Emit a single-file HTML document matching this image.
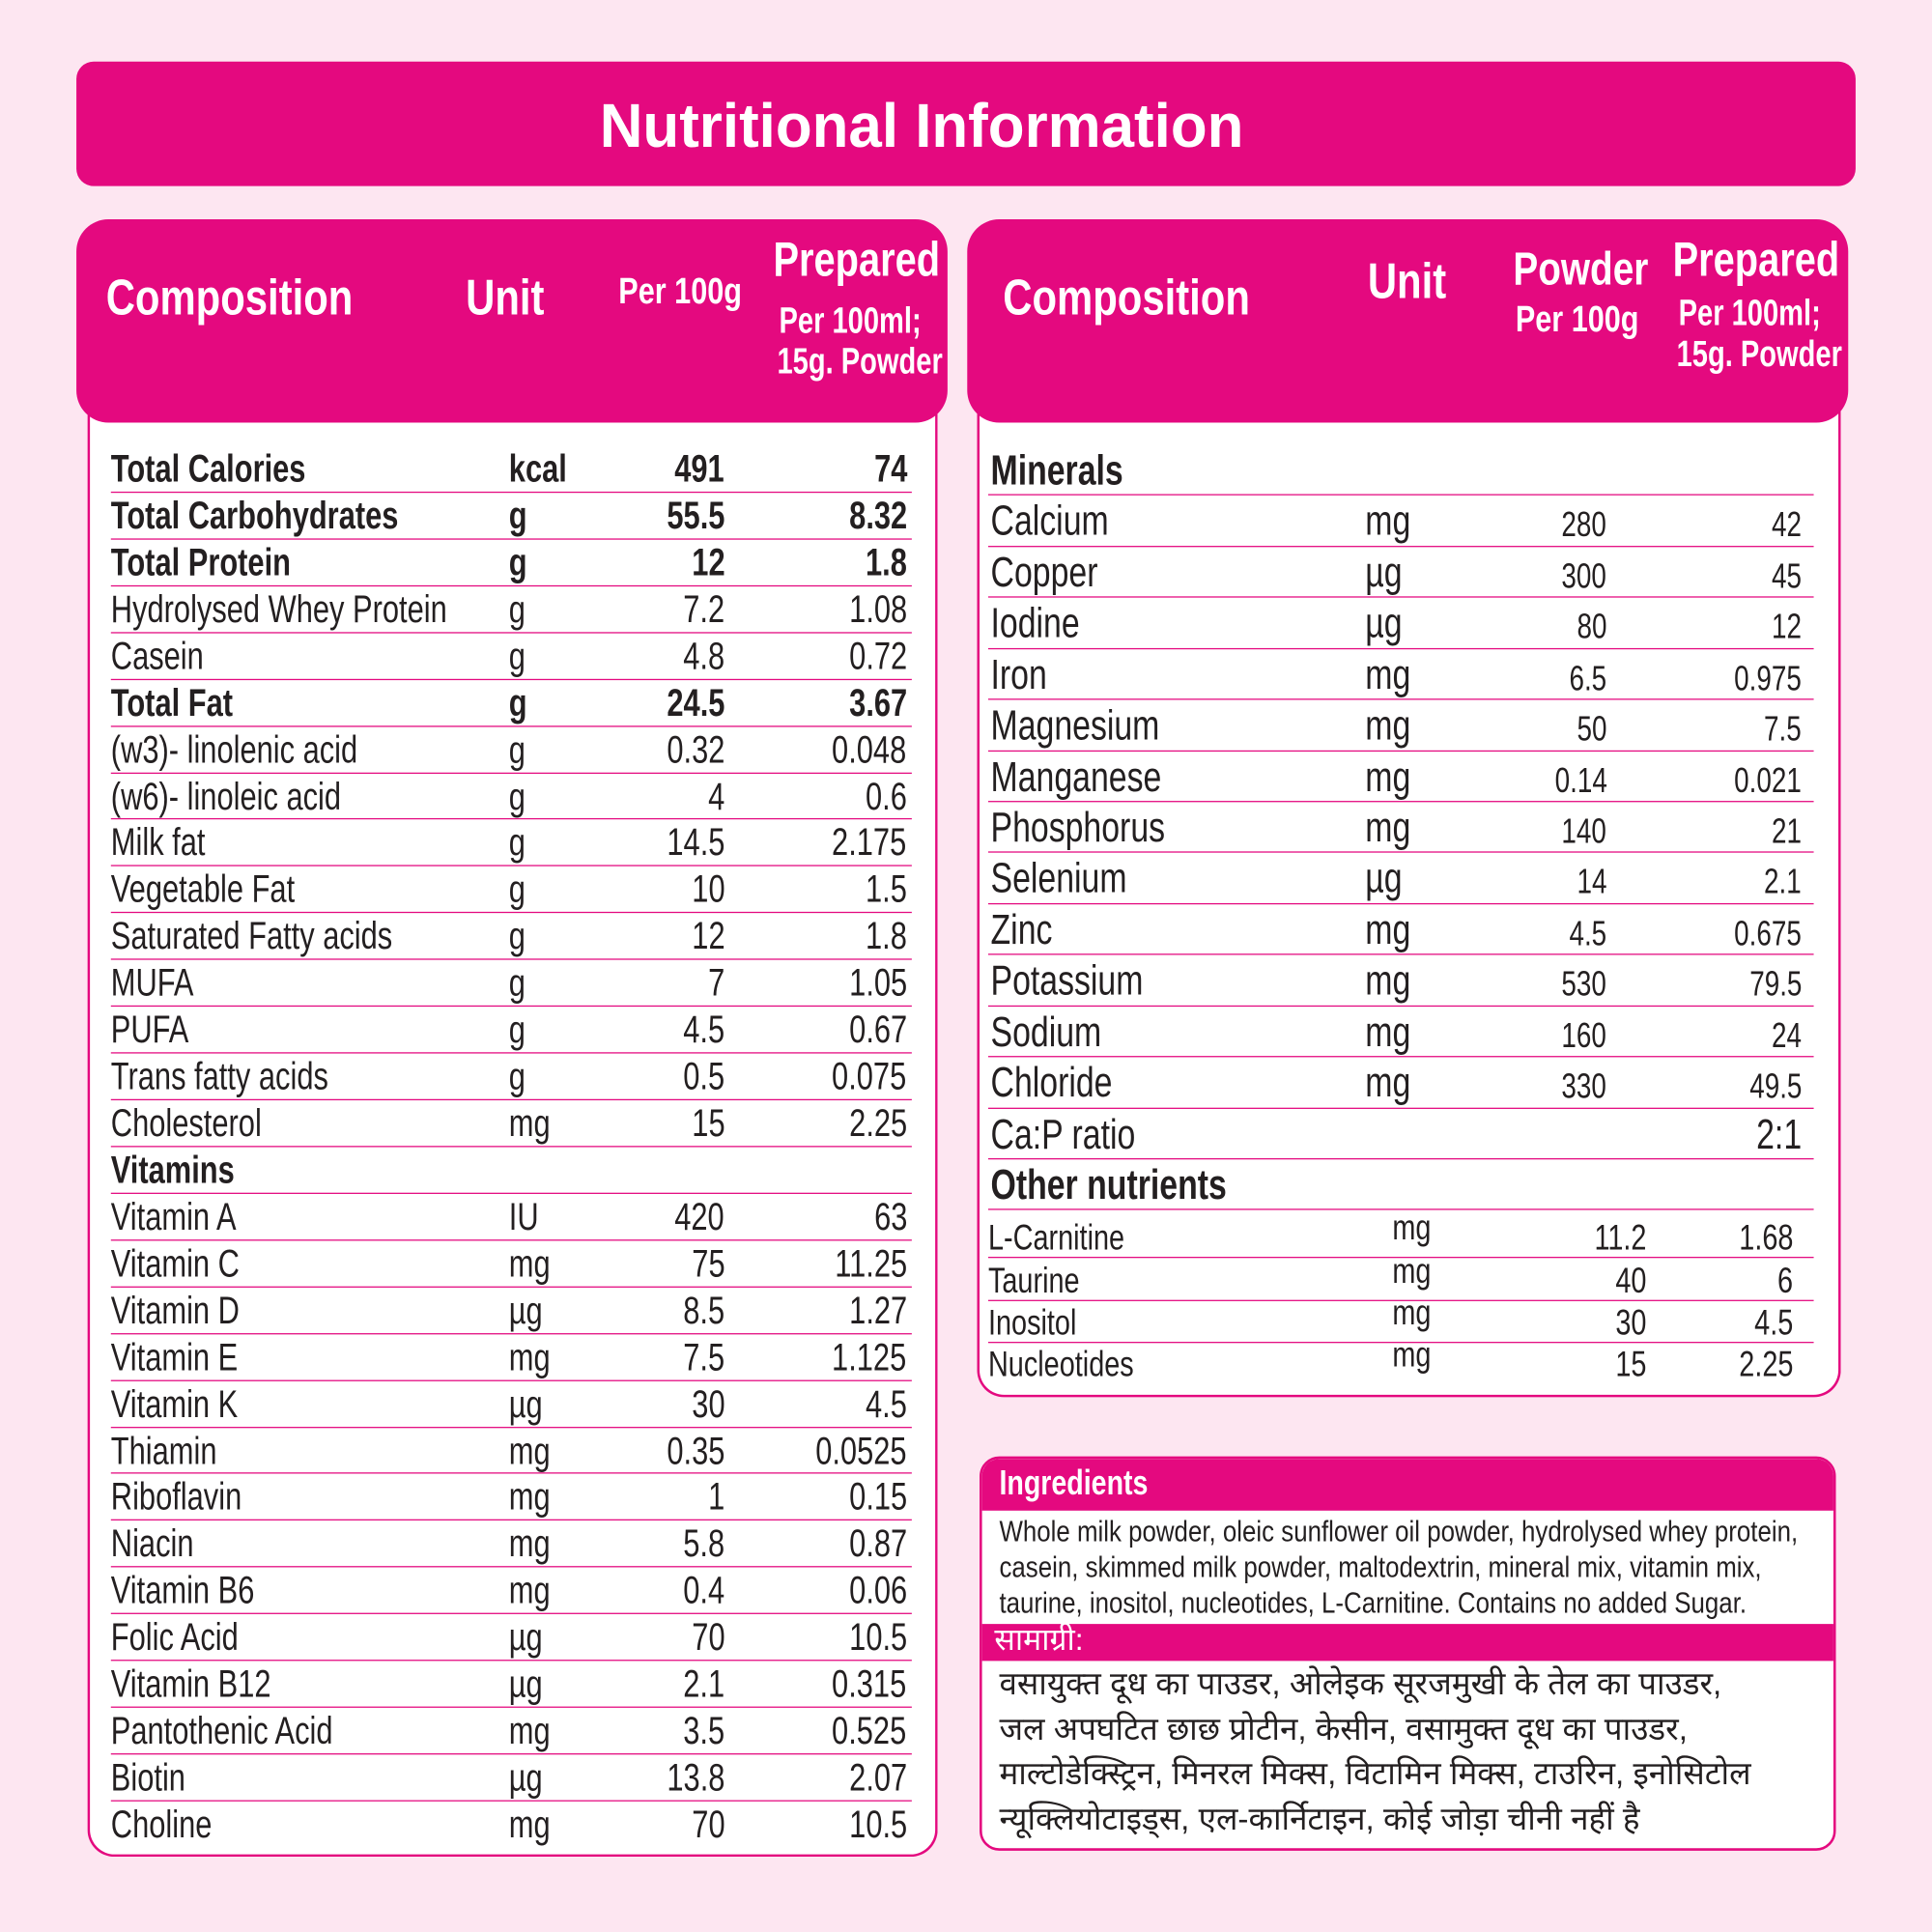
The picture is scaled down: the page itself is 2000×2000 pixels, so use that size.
<!DOCTYPE html>
<html><head><meta charset="utf-8"><style>
html,body{margin:0;padding:0;background:#fde6f1;}
#w{position:absolute;left:0;top:0;width:1568px;height:1568px;transform:scale(1.27551);transform-origin:0 0;font-family:"Liberation Sans",sans-serif;color:#231f20;}
.pk{background:#e4097f;color:#fff;position:absolute;}
.abs{position:absolute;white-space:nowrap;}
.c{transform:scaleX(.8);transform-origin:0 50%;}
.cc{transform:scaleX(.8);transform-origin:50% 50%;}
.body{position:absolute;background:#fff;border:2px solid #e4097f;border-top:none;}
.L{position:absolute;left:90px;width:650px;height:37.93px;top:calc(362px + var(--i)*37.93px);border-bottom:1.5px solid #e4097f;box-sizing:border-box;font-size:31px;line-height:38px;}
.L span,.R span,.O span{position:absolute;white-space:nowrap;transform:scaleX(.78);}
.n,.u{transform-origin:0 50%;}
.a,.b{transform-origin:100% 50%;}
.L .n{left:0}.L .u{left:323px}.L .a{right:152px}.L .b{right:4px}
.bd{font-weight:bold}
.R{position:absolute;left:802px;width:670px;height:41.43px;top:calc(361px + var(--i)*41.43px);border-bottom:1.5px solid #e4097f;box-sizing:border-box;font-size:34px;line-height:42px;}
.R .n{left:2px}.R .u{left:306px}.R .a{right:168px;font-size:28px;top:3px}.R .b{right:10px;font-size:28px;top:3px}
.O{position:absolute;left:802px;width:670px;height:34px;border-bottom:1.5px solid #e4097f;box-sizing:border-box;font-size:29px;line-height:36px;}
.O .n{left:0}.O .u{left:328px;top:-8px}.O .a{right:136px}.O .b{right:17px}
.hi{font-family:"Liberation Sans","Noto Sans CJK SC",sans-serif;}
</style></head><body><div id="w">
<div class="pk" style="left:62px;top:50px;width:1444px;height:101px;border-radius:14px;"></div>
<div class="abs" style="left:26px;width:1444px;top:72px;text-align:center;color:#fff;font-weight:bold;font-size:50px;line-height:60px;transform:scaleX(.97);transform-origin:50% 50%;">Nutritional Information</div>

<!-- left panel -->
<div class="body" style="left:71px;top:320px;width:686px;height:1185px;border-radius:0 0 22px 22px;"></div>
<div class="pk" style="left:62px;top:178px;width:707px;height:165px;border-radius:26px;"></div>
<div class="abs c" style="left:86px;top:218px;color:#fff;font-weight:bold;font-size:41px;">Composition</div>
<div class="abs c" style="left:378px;top:218px;color:#fff;font-weight:bold;font-size:41px;">Unit</div>
<div class="abs c" style="left:502px;top:220px;color:#fff;font-weight:bold;font-size:30px;">Per 100g</div>
<div class="abs cc" style="left:612px;width:156px;text-align:center;top:190px;color:#fff;font-weight:bold;font-size:39px;">Prepared</div>
<div class="abs" style="left:612px;width:156px;text-align:center;top:244px;color:#fff;font-weight:bold;font-size:30px;line-height:33px;transform:scaleX(.76);transform-origin:50% 50%;">Per 100ml;<br>15g. Powder</div>

<div class="L bd" style="--i:0"><span class="n">Total Calories</span><span class="u">kcal</span><span class="a">491</span><span class="b">74</span></div>
<div class="L bd" style="--i:1"><span class="n">Total Carbohydrates</span><span class="u">g</span><span class="a">55.5</span><span class="b">8.32</span></div>
<div class="L bd" style="--i:2"><span class="n">Total Protein</span><span class="u">g</span><span class="a">12</span><span class="b">1.8</span></div>
<div class="L" style="--i:3"><span class="n">Hydrolysed Whey Protein</span><span class="u">g</span><span class="a">7.2</span><span class="b">1.08</span></div>
<div class="L" style="--i:4"><span class="n">Casein</span><span class="u">g</span><span class="a">4.8</span><span class="b">0.72</span></div>
<div class="L bd" style="--i:5"><span class="n">Total Fat</span><span class="u">g</span><span class="a">24.5</span><span class="b">3.67</span></div>
<div class="L" style="--i:6"><span class="n">(w3)- linolenic acid</span><span class="u">g</span><span class="a">0.32</span><span class="b">0.048</span></div>
<div class="L" style="--i:7"><span class="n">(w6)- linoleic acid</span><span class="u">g</span><span class="a">4</span><span class="b">0.6</span></div>
<div class="L" style="--i:8"><span class="n">Milk fat</span><span class="u">g</span><span class="a">14.5</span><span class="b">2.175</span></div>
<div class="L" style="--i:9"><span class="n">Vegetable Fat</span><span class="u">g</span><span class="a">10</span><span class="b">1.5</span></div>
<div class="L" style="--i:10"><span class="n">Saturated Fatty acids</span><span class="u">g</span><span class="a">12</span><span class="b">1.8</span></div>
<div class="L" style="--i:11"><span class="n">MUFA</span><span class="u">g</span><span class="a">7</span><span class="b">1.05</span></div>
<div class="L" style="--i:12"><span class="n">PUFA</span><span class="u">g</span><span class="a">4.5</span><span class="b">0.67</span></div>
<div class="L" style="--i:13"><span class="n">Trans fatty acids</span><span class="u">g</span><span class="a">0.5</span><span class="b">0.075</span></div>
<div class="L" style="--i:14"><span class="n">Cholesterol</span><span class="u">mg</span><span class="a">15</span><span class="b">2.25</span></div>
<div class="L bd" style="--i:15"><span class="n">Vitamins</span></div>
<div class="L" style="--i:16"><span class="n">Vitamin A</span><span class="u">IU</span><span class="a">420</span><span class="b">63</span></div>
<div class="L" style="--i:17"><span class="n">Vitamin C</span><span class="u">mg</span><span class="a">75</span><span class="b">11.25</span></div>
<div class="L" style="--i:18"><span class="n">Vitamin D</span><span class="u">µg</span><span class="a">8.5</span><span class="b">1.27</span></div>
<div class="L" style="--i:19"><span class="n">Vitamin E</span><span class="u">mg</span><span class="a">7.5</span><span class="b">1.125</span></div>
<div class="L" style="--i:20"><span class="n">Vitamin K</span><span class="u">µg</span><span class="a">30</span><span class="b">4.5</span></div>
<div class="L" style="--i:21"><span class="n">Thiamin</span><span class="u">mg</span><span class="a">0.35</span><span class="b">0.0525</span></div>
<div class="L" style="--i:22"><span class="n">Riboflavin</span><span class="u">mg</span><span class="a">1</span><span class="b">0.15</span></div>
<div class="L" style="--i:23"><span class="n">Niacin</span><span class="u">mg</span><span class="a">5.8</span><span class="b">0.87</span></div>
<div class="L" style="--i:24"><span class="n">Vitamin B6</span><span class="u">mg</span><span class="a">0.4</span><span class="b">0.06</span></div>
<div class="L" style="--i:25"><span class="n">Folic Acid</span><span class="u">µg</span><span class="a">70</span><span class="b">10.5</span></div>
<div class="L" style="--i:26"><span class="n">Vitamin B12</span><span class="u">µg</span><span class="a">2.1</span><span class="b">0.315</span></div>
<div class="L" style="--i:27"><span class="n">Pantothenic Acid</span><span class="u">mg</span><span class="a">3.5</span><span class="b">0.525</span></div>
<div class="L" style="--i:28"><span class="n">Biotin</span><span class="u">µg</span><span class="a">13.8</span><span class="b">2.07</span></div>
<div class="L" style="--i:29;border-bottom:none"><span class="n">Choline</span><span class="u">mg</span><span class="a">70</span><span class="b">10.5</span></div>

<!-- right panel -->
<div class="body" style="left:793px;top:320px;width:697px;height:812px;border-radius:0 0 22px 22px;"></div>
<div class="pk" style="left:785px;top:178px;width:715px;height:165px;border-radius:26px;"></div>
<div class="abs c" style="left:814px;top:218px;color:#fff;font-weight:bold;font-size:41px;">Composition</div>
<div class="abs c" style="left:1110px;top:205px;color:#fff;font-weight:bold;font-size:41px;">Unit</div>
<div class="abs cc" style="left:1215px;width:130px;text-align:center;top:198px;color:#fff;font-weight:bold;font-size:38px;">Powder</div>
<div class="abs cc" style="left:1215px;width:130px;text-align:center;top:243px;color:#fff;font-weight:bold;font-size:30px;">Per 100g</div>
<div class="abs cc" style="left:1342px;width:156px;text-align:center;top:190px;color:#fff;font-weight:bold;font-size:39px;">Prepared</div>
<div class="abs" style="left:1342px;width:156px;text-align:center;top:238px;color:#fff;font-weight:bold;font-size:30px;line-height:33px;transform:scaleX(.76);transform-origin:50% 50%;">Per 100ml;<br>15g. Powder</div>

<div class="R bd" style="--i:0"><span class="n">Minerals</span></div>
<div class="R" style="--i:1"><span class="n">Calcium</span><span class="u">mg</span><span class="a">280</span><span class="b">42</span></div>
<div class="R" style="--i:2"><span class="n">Copper</span><span class="u">µg</span><span class="a">300</span><span class="b">45</span></div>
<div class="R" style="--i:3"><span class="n">Iodine</span><span class="u">µg</span><span class="a">80</span><span class="b">12</span></div>
<div class="R" style="--i:4"><span class="n">Iron</span><span class="u">mg</span><span class="a">6.5</span><span class="b">0.975</span></div>
<div class="R" style="--i:5"><span class="n">Magnesium</span><span class="u">mg</span><span class="a">50</span><span class="b">7.5</span></div>
<div class="R" style="--i:6"><span class="n">Manganese</span><span class="u">mg</span><span class="a">0.14</span><span class="b">0.021</span></div>
<div class="R" style="--i:7"><span class="n">Phosphorus</span><span class="u">mg</span><span class="a">140</span><span class="b">21</span></div>
<div class="R" style="--i:8"><span class="n">Selenium</span><span class="u">µg</span><span class="a">14</span><span class="b">2.1</span></div>
<div class="R" style="--i:9"><span class="n">Zinc</span><span class="u">mg</span><span class="a">4.5</span><span class="b">0.675</span></div>
<div class="R" style="--i:10"><span class="n">Potassium</span><span class="u">mg</span><span class="a">530</span><span class="b">79.5</span></div>
<div class="R" style="--i:11"><span class="n">Sodium</span><span class="u">mg</span><span class="a">160</span><span class="b">24</span></div>
<div class="R" style="--i:12"><span class="n">Chloride</span><span class="u">mg</span><span class="a">330</span><span class="b">49.5</span></div>
<div class="R" style="--i:13"><span class="n">Ca:P ratio</span><span class="b" style="font-size:34px;top:0">2:1</span></div>
<div class="R bd" style="--i:14"><span class="n">Other nutrients</span></div>
<div class="O" style="top:987px"><span class="n">L-Carnitine</span><span class="u">mg</span><span class="a">11.2</span><span class="b">1.68</span></div>
<div class="O" style="top:1022px"><span class="n">Taurine</span><span class="u">mg</span><span class="a">40</span><span class="b">6</span></div>
<div class="O" style="top:1056px"><span class="n">Inositol</span><span class="u">mg</span><span class="a">30</span><span class="b">4.5</span></div>
<div class="O" style="top:1090px;border-bottom:none"><span class="n">Nucleotides</span><span class="u">mg</span><span class="a">15</span><span class="b">2.25</span></div>

<!-- ingredients -->
<div style="position:absolute;left:795px;top:1182px;width:691px;height:316px;background:#fff;border:2px solid #e4097f;border-radius:16px;overflow:hidden;">
<div class="pk" style="left:0;top:0;width:100%;height:42px;"></div>
<div class="abs c" style="left:14px;top:4px;color:#fff;font-weight:bold;font-size:28px;">Ingredients</div>
<div class="abs c" style="left:14px;top:45px;font-size:24px;line-height:29px;transform:scaleX(.845);">Whole milk powder, oleic sunflower oil powder, hydrolysed whey protein,<br>casein, skimmed milk powder, maltodextrin, mineral mix, vitamin mix,<br>taurine, inositol, nucleotides, L-Carnitine. Contains no added Sugar.</div>
<div class="pk" style="left:0;top:134px;width:100%;height:30px;"></div>
<div class="abs hi" style="left:10px;top:132px;color:#fff;font-size:25px;line-height:30px;">सामाग्री:</div>
<div class="abs hi" style="left:14px;top:164px;font-size:26px;line-height:36.5px;">वसायुक्त दूध का पाउडर, ओलेइक सूरजमुखी के तेल का पाउडर,<br>जल अपघटित छाछ प्रोटीन, केसीन, वसामुक्त दूध का पाउडर,<br>माल्टोडेक्स्ट्रिन, मिनरल मिक्स, विटामिन मिक्स, टाउरिन, इनोसिटोल<br>न्यूक्लियोटाइड्स, एल-कार्निटाइन, कोई जोड़ा चीनी नहीं है</div>
</div>
</div></body></html>
